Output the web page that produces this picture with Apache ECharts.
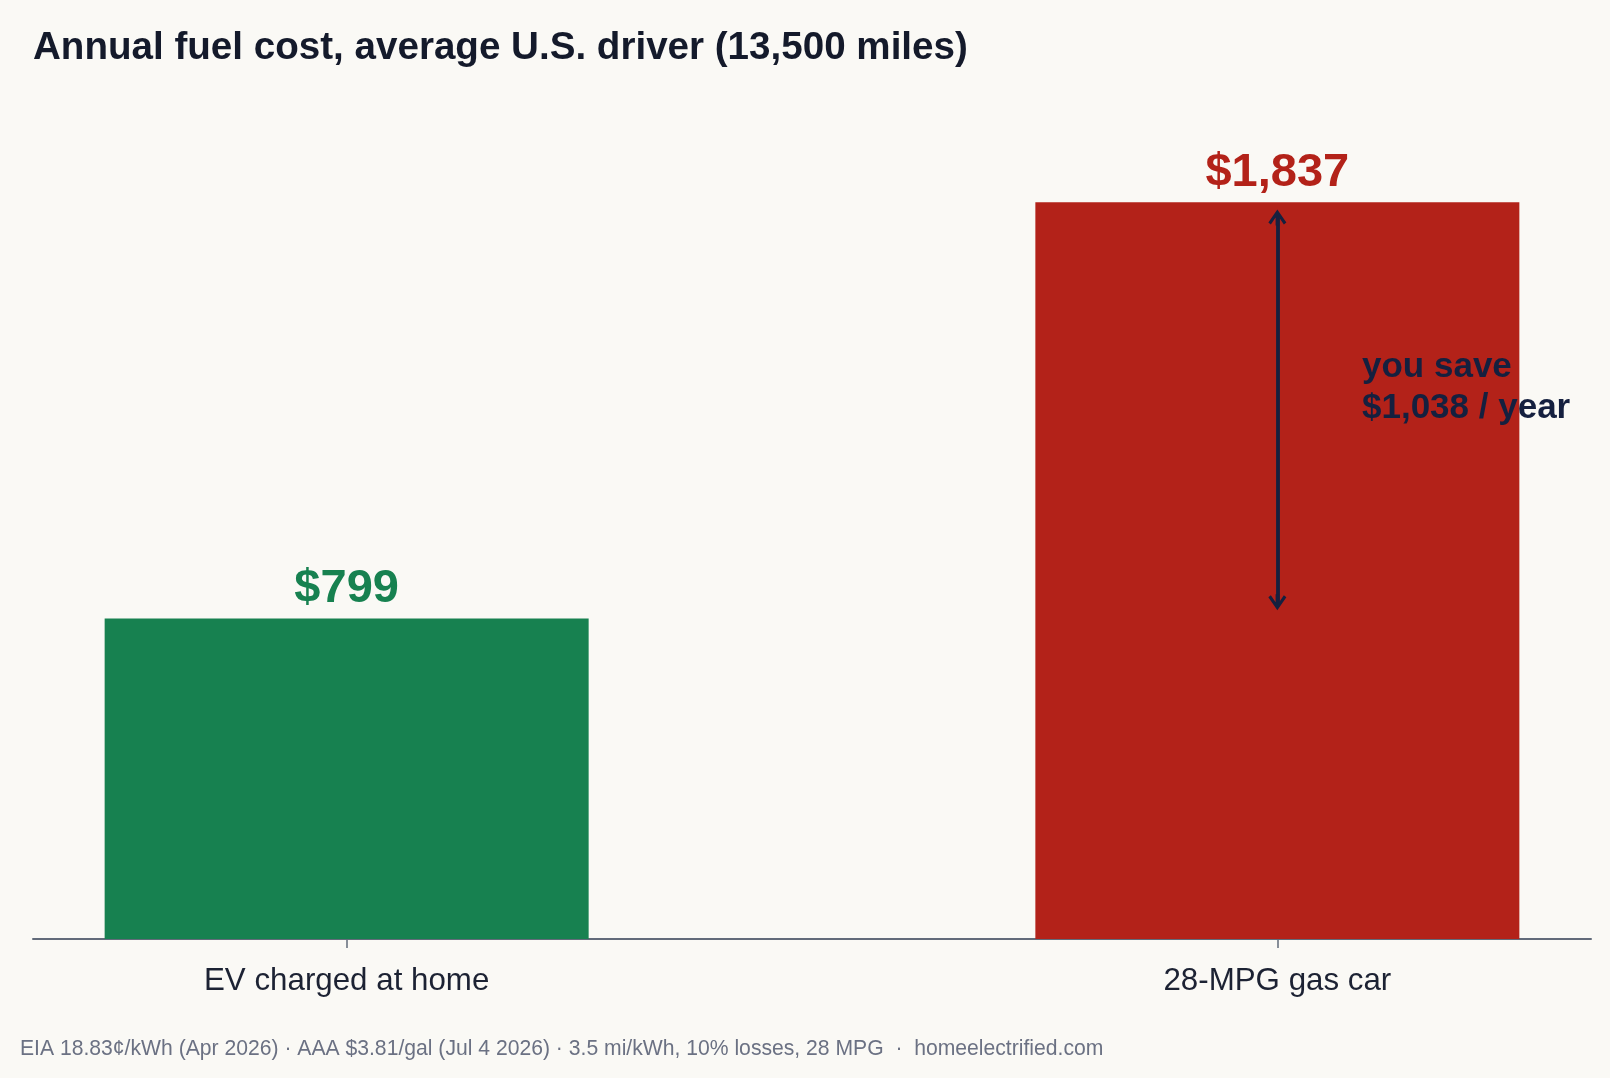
<!DOCTYPE html>
<html>
<head>
<meta charset="utf-8">
<script src="https://cdn.jsdelivr.net/npm/echarts@6/dist/echarts.min.js"></script>
<style>
  html, body { margin: 0; padding: 0; background: #faf9f5; }
  #chart { width: 1610px; height: 1078px; }
</style>
</head>
<body>
<div id="chart"></div>
<script>
// ---- data ----
const categories = ['EV charged at home', '28-MPG gas car'];
const annualCost = [799, 1837];
const categoryPos = [0, 1];
const titleText = 'Annual fuel cost, average U.S. driver (13,500 miles)';
const footerText = 'EIA 18.83\u00a2/kWh (Apr 2026) \u00b7 AAA $3.81/gal (Jul 4 2026) \u00b7 3.5 mi/kWh, 10% losses, 28 MPG  \u00b7  homeelectrified.com';

// ---- styles ----
const FONT = '"Liberation Sans", Arial, Helvetica, sans-serif';
const COLORS = ['#178150', '#b32219'];
const NAVY = '#15203f';
const AXIS = '#626b7a';

const evCost = annualCost[0];
const gasCost = annualCost[1];
const savings = gasCost - evCost;
const fmt = v => '$' + v.toLocaleString('en-US');

const chart = echarts.init(document.getElementById('chart'), null, { renderer: 'canvas' });

const option = {
  backgroundColor: '#faf9f5',
  animation: false,
  title: {
    text: titleText,
    left: 33,
    top: 29,
    padding: 0,
    textStyle: { fontFamily: FONT, fontSize: 38.6, fontWeight: 'bold', color: '#141a2b', lineHeight: 39 }
  },
  grid: { left: 33, right: 19, top: 137, bottom: 139, containLabel: false, outerBoundsMode: 'none' },
  xAxis: {
    type: 'value',
    min: -0.337,
    max: 1.337,
    splitLine: { show: false },
    axisLine: { show: true, onZero: false, lineStyle: { color: AXIS, width: 2 } },
    axisTick: { show: true, customValues: categoryPos, length: 9, lineStyle: { color: AXIS, width: 1.5 } },
    axisLabel: {
      show: true,
      customValues: categoryPos,
      formatter: v => categories[Math.round(v)],
      fontFamily: FONT, fontSize: 31.3, color: '#1c2233', margin: 27, lineHeight: 31
    }
  },
  yAxis: { type: 'value', min: 0, max: 2000, show: false },
  series: [{
    type: 'bar',
    barWidth: 484,
    z: 2,
    data: annualCost.map((v, i) => ({
      value: [categoryPos[i], v],
      itemStyle: { color: COLORS[i] },
      label: { color: COLORS[i] }
    })),
    label: {
      show: true,
      position: 'top',
      distance: 6,
      formatter: p => fmt(p.value[1]),
      fontFamily: FONT, fontSize: 47, fontWeight: 'bold', lineHeight: 47
    },
    markLine: {
      silent: true,
      animation: false,
      symbol: ['path://M9,0 L18,13 L15.5,15 L10.75,8 L10.75,16 L7.25,16 L7.25,8 L2.5,15 L0,13 Z',
               'path://M9,0 L18,13 L15.5,15 L10.75,8 L10.75,16 L7.25,16 L7.25,8 L2.5,15 L0,13 Z'],
      symbolSize: [18, 16],
      lineStyle: { color: NAVY, width: 3.8, type: 'solid' },
      itemStyle: { color: NAVY },
      label: { show: false },
      emphasis: { disabled: true },
      data: [[
        { coord: [categoryPos[1], gasCost - 38] },
        { coord: [categoryPos[1], evCost + 41] }
      ]]
    }
  }],
  graphic: [
    {
      type: 'text',
      x: 1362,
      y: 346.5,
      z: 100,
      zlevel: 0,
      silent: true,
      style: {
        text: 'you save\n' + fmt(savings) + ' / year',
        font: 'bold 35px ' + FONT,
        fill: NAVY,
        lineHeight: 41,
        verticalAlign: 'top',
        align: 'left'
      }
    },
    {
      type: 'text',
      x: 20,
      y: 1049.5,
      z: 100,
      silent: true,
      style: {
        text: footerText,
        font: '21.15px ' + FONT,
        fill: '#6b7183',
        verticalAlign: 'middle',
        align: 'left'
      }
    }
  ]
};

chart.setOption(option);
</script>
</body>
</html>
